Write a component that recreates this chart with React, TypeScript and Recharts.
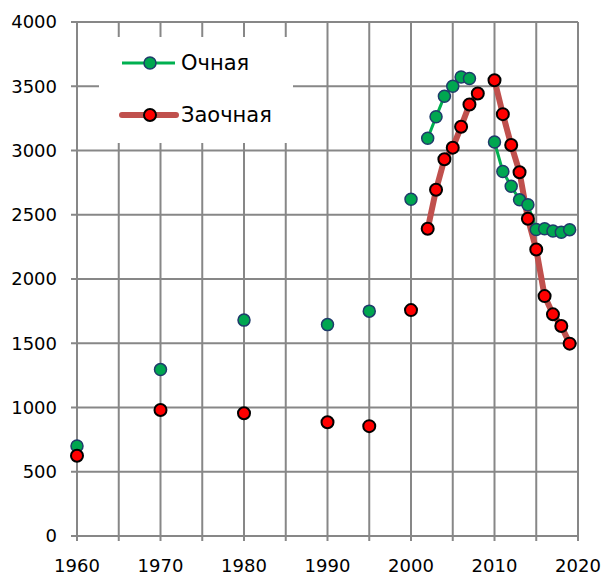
import React from 'react';
import { LineChart, Line, XAxis, YAxis, CartesianGrid } from 'recharts';

// sparse years, shown as markers only
const earlyYears = [1960, 1970, 1980, 1990, 1995, 2000];
const earlyOchnaya = [700, 1295, 1680, 1645, 1750, 2620];
const earlyZaochnaya = [625, 980, 955, 885, 855, 1758];

// yearly data, joined by lines (null = no value)
const lateYears = [2002, 2003, 2004, 2005, 2006, 2007, 2008, 2009, 2010, 2011, 2012, 2013, 2014, 2015, 2016, 2017, 2018, 2019];
const lateOchnaya = [3095, 3262, 3422, 3500, 3572, 3560, null, null, 3066, 2836, 2722, 2616, 2578, 2385, 2391, 2374, 2364, 2384];
const lateZaochnaya = [2391, 2694, 2932, 3022, 3185, 3358, 3443, null, 3547, 3283, 3043, 2831, 2469, 2229, 1867, 1725, 1634, 1497];

const xTicks = [1960, 1965, 1970, 1975, 1980, 1985, 1990, 1995, 2000, 2005, 2010, 2015, 2020];
const yTicks = [0, 500, 1000, 1500, 2000, 2500, 3000, 3500, 4000];

const seriesNames = ['Очная', 'Заочная'];

const data = [
  ...earlyYears.map((year, i) => ({ year, ochEarly: earlyOchnaya[i], zaoEarly: earlyZaochnaya[i], ochLate: null, zaoLate: null })),
  ...lateYears.map((year, i) => ({ year, ochEarly: null, zaoEarly: null, ochLate: lateOchnaya[i], zaoLate: lateZaochnaya[i] })),
];

const GRID = '#878787';
const GREEN_LINE = '#00b050';
const GREEN_DOT = '#00a650';
const GREEN_EDGE = '#1f3b6b';
const RED_LINE = '#c0504d';
const RED_DOT = '#ff0000';
const FONT = '"DejaVu Sans", sans-serif';

const greenDot = { r: 6, fill: GREEN_DOT, stroke: GREEN_EDGE, strokeWidth: 1.5 };
const redDot = { r: 6, fill: RED_DOT, stroke: '#000', strokeWidth: 2 };

function LegendBox() {
  return (
    <div style={{ position: 'absolute', left: 99, top: 37, width: 194, height: 106, background: '#fff' }}>
      <svg width={194} height={106} style={{ fontFamily: FONT }}>
        <line x1={23} x2={76} y1={26} y2={26} stroke={GREEN_LINE} strokeWidth={3} />
        <circle cx={51} cy={26} {...greenDot} />
        <text x={82} y={26} dy="0.35em" fontSize={21} fill="#000">{seriesNames[0]}</text>
        <line x1={23} x2={77} y1={78} y2={78} stroke={RED_LINE} strokeWidth={6} strokeLinecap="round" />
        <circle cx={51} cy={78} {...redDot} />
        <text x={82} y={78} dy="0.35em" fontSize={21} fill="#000">{seriesNames[1]}</text>
      </svg>
    </div>
  );
}

export default function App() {
  return (
    <div style={{ position: 'absolute', left: 0, top: 0, width: 607, height: 576, background: '#fff', fontFamily: FONT }}>
      <LineChart width={607} height={576} data={data} margin={{ top: 22, right: 29, bottom: 10, left: 0 }}>
        <CartesianGrid stroke={GRID} strokeWidth={2} />
        <XAxis
          dataKey="year"
          type="number"
          domain={[1960, 2020]}
          ticks={xTicks}
          height={30}
          tickFormatter={(v: number) => (v % 10 === 0 ? String(v) : '')}
          axisLine={{ stroke: GRID, strokeWidth: 2 }}
          tickLine={{ stroke: GRID, strokeWidth: 2 }}
          tickSize={5}
          tickMargin={18}
          tick={{ fill: '#000', fontSize: 18, fontFamily: FONT }}
        />
        <YAxis
          type="number"
          domain={[0, 4000]}
          ticks={yTicks}
          width={77}
          axisLine={{ stroke: GRID, strokeWidth: 2 }}
          tickLine={{ stroke: GRID, strokeWidth: 2 }}
          tickSize={6}
          tickMargin={14}
          tick={{ fill: '#000', fontSize: 18, fontFamily: FONT }}
        />
        <Line dataKey="ochEarly" stroke="none" dot={greenDot} activeDot={false} legendType="none" isAnimationActive={false} />
        <Line dataKey="ochLate" stroke={GREEN_LINE} strokeWidth={3} dot={greenDot} activeDot={false} isAnimationActive={false} />
        <Line dataKey="zaoEarly" stroke="none" dot={redDot} activeDot={false} legendType="none" isAnimationActive={false} />
        <Line dataKey="zaoLate" stroke={RED_LINE} strokeWidth={6} strokeLinecap="round" strokeLinejoin="round" dot={redDot} activeDot={false} isAnimationActive={false} />
      </LineChart>
      <LegendBox />
    </div>
  );
}
